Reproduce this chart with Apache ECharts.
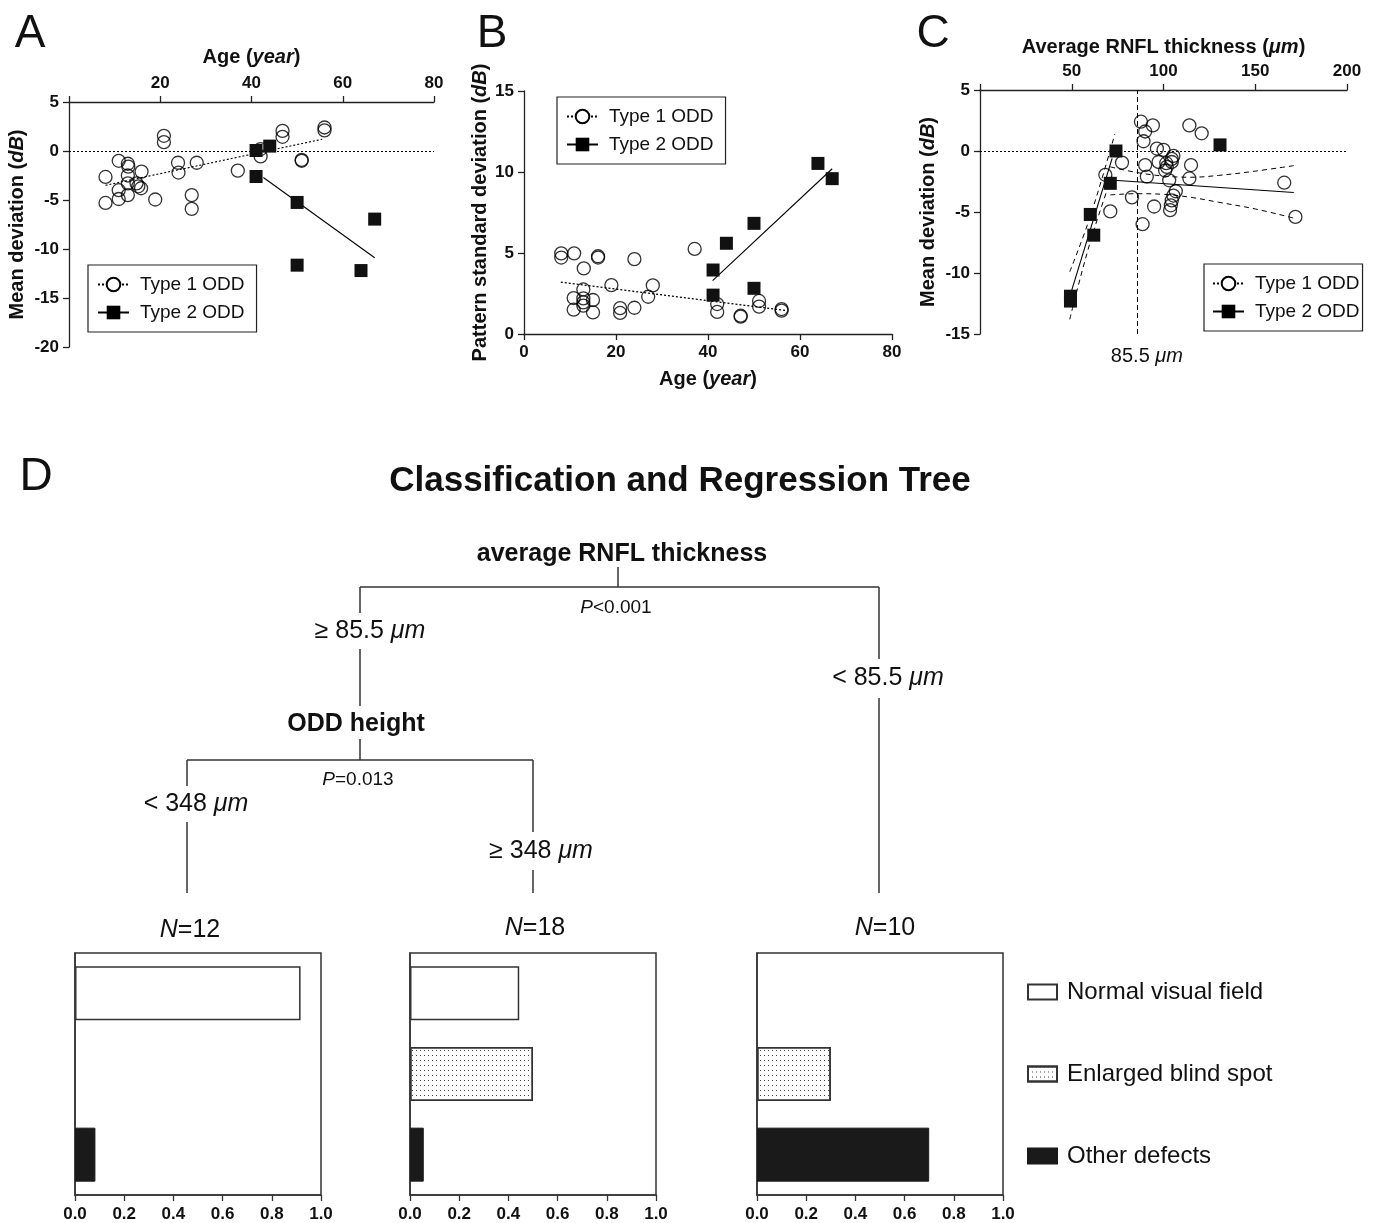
<!DOCTYPE html>
<html><head><meta charset="utf-8">
<script src="https://cdn.jsdelivr.net/npm/echarts@6/dist/echarts.min.js"></script>
<style>html,body{margin:0;padding:0;background:#fff}#c{width:1387px;height:1223px}</style>
</head><body><div id="c"></div>
<script>
const FONT = '"Liberation Sans", Arial, sans-serif';

// ---------- Panel A : Age vs Mean deviation ----------
const aType1 = [[8,-2.65],[8,-5.3],[10.9,-1.0],[10.9,-4.0],[10.9,-4.9],[12.9,-1.3],[13,-1.6],[12.9,-2.5],[12.9,-3.3],[12.9,-4.5],[14.8,-3.3],[15.2,-3.6],[15.8,-3.8],[15.9,-2.1],[18.9,-4.95],[20.8,1.55],[20.8,0.9],[23.9,-1.2],[24,-2.2],[26.9,-4.5],[26.9,-5.9],[28,-1.2],[37,-2.0],[42,-0.55],[42,0.2],[46.8,2.05],[46.8,1.45],[51,-0.9],[51,-1.0],[56,2.4],[56,2.1]];
const aType2 = [[41,-2.6],[41,0.05],[44,0.5],[50,-5.25],[50,-11.65],[64,-12.2],[67,-6.95]];
const aFit1 = [[8,-3.5],[55.5,1.2]];
const aFit2 = [[42.6,-2.7],[67,-10.9]];

// ---------- Panel B : Age vs Pattern standard deviation ----------
const bType1 = [[8.1,4.98],[8.1,4.72],[10.9,4.98],[13,4.05],[10.8,2.22],[10.8,1.5],[12.9,2.75],[12.9,2.2],[12.9,1.95],[12.9,1.75],[15,2.1],[15,1.33],[16.1,4.8],[16.1,4.72],[19,3.02],[20.9,1.6],[20.9,1.3],[24,4.62],[24,1.62],[27,2.3],[28,3.0],[37.1,5.25],[42,1.85],[42,1.36],[47.1,1.13],[47.1,1.07],[51.1,2.04],[51.1,1.69],[56,1.54],[56,1.44]];
const bType2 = [[41.1,3.95],[41.1,2.4],[44,5.6],[50,6.83],[50,2.82],[63.9,10.53],[67,9.59]];
const bFit1 = [[8,3.2],[57,1.45]];
const bFit2 = [[41,3.3],[67,10.2]];

// ---------- Panel C : RNFL thickness vs Mean deviation ----------
const cType1 = [[87.7,2.4],[90,1.6],[89.1,0.8],[94.2,2.1],[96.4,0.2],[100,0.1],[105.4,-0.4],[104.5,-0.9],[97.3,-0.9],[101.8,-1.3],[100.9,-1.6],[90,-1.15],[90.9,-2.1],[103.1,-2.4],[115,-1.15],[114.1,-2.25],[114.1,2.1],[120.8,1.45],[77.4,-0.95],[68.3,-1.95],[71,-4.95],[82.8,-3.8],[88.6,-6.0],[94.9,-4.55],[106.7,-3.3],[105.4,-3.65],[104.5,-4.05],[104,-4.45],[103.6,-4.85],[165.8,-2.6],[171.9,-5.4],[104.5,-0.65],[101.5,-1.0]];
const cType2 = [[49.3,-11.9],[49.3,-12.3],[60.1,-5.2],[62,-6.9],[71,-2.65],[74.1,0.0],[130.8,0.5]];
const cFit1 = [[71,-2.38],[171,-3.4]];
const cBand1Upper = [[71,-1.3],[85,-1.75],[100,-2.05],[115,-2.15],[130,-2.0],[150,-1.65],[171,-1.2]];
const cBand1Lower = [[71,-3.6],[85,-3.5],[100,-3.55],[115,-3.8],[130,-4.2],[150,-4.75],[171,-5.5]];
const cFit2 = [[49.8,-11.5],[72,-0.6]];
const cBand2Upper = [[48.9,-9.9],[60,-5.4],[73.5,1.4]];
const cBand2Lower = [[48.9,-13.8],[60,-7.5],[72.5,-1.8]];
const cCutoff = 85.5;

// ---------- Panel D : classification tree ----------
const barCats = ['Normal visual field','Enlarged blind spot','Other defects'];
const nodeValues = [[0.917,0,0.083],[0.444,0.5,0.056],[0,0.3,0.7]];
const nodeN = [12,18,10];
const treeTexts = {root:'average RNFL thickness', split2:'ODD height', p1:'<0.001', p2:'=0.013',
  ge855:'≥ 85.5 ', lt855:'< 85.5 ', lt348:'< 348 ', ge348:'≥ 348 '};

const AX = '#222';
function valAxis(o){
  return Object.assign({
    type:'value', splitLine:{show:false},
    axisLine:{show:true,onZero:false,lineStyle:{color:AX,width:1.3}},
    axisTick:{show:true,inside:false,length:6,lineStyle:{color:AX,width:1.3}},
    axisLabel:{fontWeight:'bold',fontSize:17,color:'#111',fontFamily:FONT,margin:10},
    nameLocation:'middle',
    nameTextStyle:{color:'#111',rich:{b:{fontSize:20,fontWeight:'bold',fontFamily:FONT,color:'#111'},
      i:{fontSize:20,fontWeight:'bold',fontStyle:'italic',fontFamily:FONT,color:'#111'}}}
  },o);
}
const hide0 = v => v===0 ? '' : String(v);
const baseLabel = valAxis({}).axisLabel;

function fitSeries(name,xi,data,lineType){
  return {type:'line',name,xAxisIndex:xi,yAxisIndex:xi,data,showSymbol:false,
    symbol: name==='Type 1 ODD' ? 'emptyCircle' : 'rect',
    itemStyle:{color:'#000'},lineStyle:{color:'#000',width:1.1,type:lineType},silent:true,z:3,animation:false};
}
function t1(xi,data,extra){
  return Object.assign({type:'scatter',name:'Type 1 ODD',xAxisIndex:xi,yAxisIndex:xi,data,symbol:'circle',symbolSize:13,
    itemStyle:{color:'rgba(0,0,0,0)',borderColor:'#000',borderWidth:1.3},silent:true,z:4},extra||{});
}
function t2(xi,data){
  return {type:'scatter',name:'Type 2 ODD',xAxisIndex:xi,yAxisIndex:xi,data,symbol:'rect',symbolSize:13,
    itemStyle:{color:'#111',opacity:1},silent:true,z:5};
}
function band(xi,data){
  return {type:'line',name:'band',xAxisIndex:xi,yAxisIndex:xi,data,showSymbol:false,smooth:0.4,
    lineStyle:{color:'#000',width:1,type:[5,4]},silent:true,z:3};
}
const zeroLine = {silent:true,symbol:'none',label:{show:false},animation:false,
  lineStyle:{color:'#000',width:1,type:[2,2]},data:[{yAxis:0}]};

const series = [
  fitSeries('Type 1 ODD',0,aFit1,[2,2]),
  fitSeries('Type 2 ODD',0,aFit2,'solid'),
  t1(0,aType1,{markLine:zeroLine}), t2(0,aType2),
  fitSeries('fitB1',1,bFit1,[2,2]),
  fitSeries('fitB2',1,bFit2,'solid'),
  t1(1,bType1), t2(1,bType2),
  fitSeries('fitC1',2,cFit1,'solid'),
  fitSeries('fitC2',2,cFit2,'solid'),
  band(2,cBand1Upper), band(2,cBand1Lower), band(2,cBand2Upper), band(2,cBand2Lower),
  t1(2,cType1,{markLine:{silent:true,symbol:'none',animation:false,
    data:[{yAxis:0,lineStyle:{color:'#000',width:1,type:[2,2]},label:{show:false}},
          {xAxis:cCutoff,lineStyle:{color:'#000',width:1,type:[5,3]},
           label:{show:true,position:'start',distance:12,offset:[10,0],formatter:'{n|'+cCutoff+' }{i|μm}',
             rich:{n:{fontSize:20,fontFamily:FONT,color:'#111'},i:{fontSize:20,fontStyle:'italic',fontFamily:FONT,color:'#111'}}}}]}}),
  t2(2,cType2)
];

const barStyles = [
  {color:'#fff',borderColor:'#333',borderWidth:1.5},
  {color:'#fff',borderColor:'#333',borderWidth:1.5,decal:{symbol:'rect',symbolSize:1,dashArrayX:[1,3],dashArrayY:[1,4],color:'#444',rotation:0}},
  {color:'#1a1a1a',borderColor:'#1a1a1a',borderWidth:1}
];
nodeValues.forEach((vals,g)=>{
  barCats.forEach((cat,k)=>{
    series.push({type:'bar',name:cat,xAxisIndex:3+g,yAxisIndex:3+g,stack:'n'+g,barWidth:54,silent:true,
      itemStyle:barStyles[k],
      data:barCats.map((c,j)=> (j===k && vals[j]>0) ? vals[j] : '-')});
  });
});

const grids = [
  {left:69,top:102,width:365,height:245},
  {left:524,top:91,width:368,height:243},
  {left:980,top:90,width:367,height:244},
  {left:75,top:953,width:246,height:242,show:true,borderColor:'#333',borderWidth:1.5},
  {left:410,top:953,width:246,height:242,show:true,borderColor:'#333',borderWidth:1.5},
  {left:757,top:953,width:246,height:242,show:true,borderColor:'#333',borderWidth:1.5}
];

const xAxes = [
  valAxis({gridIndex:0,position:'top',min:0,max:80,interval:20,axisLabel:Object.assign({},baseLabel,{formatter:hide0}),
    name:'{b|Age (}{i|year}{b|)}',nameGap:35}),
  valAxis({gridIndex:1,position:'bottom',min:0,max:80,interval:20,name:'{b|Age (}{i|year}{b|)}',nameGap:35}),
  valAxis({gridIndex:2,position:'top',min:0,max:200,interval:50,axisLabel:Object.assign({},baseLabel,{formatter:hide0}),
    name:'{b|Average RNFL thickness (}{i|μm}{b|)}',nameGap:33})
];
const yAxes = [
  valAxis({gridIndex:0,min:-20,max:5,interval:5,name:'{b|Mean deviation (}{i|dB}{b|)}',nameGap:42}),
  valAxis({gridIndex:1,min:0,max:15,interval:5,name:'{b|Pattern standard deviation (}{i|dB}{b|)}',nameGap:34}),
  valAxis({gridIndex:2,min:-15,max:5,interval:5,name:'{b|Mean deviation (}{i|dB}{b|)}',nameGap:42})
];
for(let g=0;g<3;g++){
  xAxes.push({type:'value',gridIndex:3+g,min:0,max:1,interval:0.2,splitLine:{show:false},
    axisLine:{show:true,lineStyle:{color:'#333',width:1.5}},
    axisTick:{show:true,length:6,lineStyle:{color:'#333',width:1.3}},
    axisLabel:{fontWeight:'bold',fontSize:17,color:'#111',fontFamily:FONT,margin:11,formatter:v=>v.toFixed(1)}});
  yAxes.push({type:'category',gridIndex:3+g,data:barCats,inverse:true,
    axisLine:{show:true,lineStyle:{color:'#333',width:1.5}},axisTick:{show:false},axisLabel:{show:false}});
}

function scatterLegend(left,top,padding){
  return {data:['Type 1 ODD','Type 2 ODD'],orient:'vertical',left,top,padding,
    borderColor:'#222',borderWidth:1.2,itemWidth:31,itemHeight:17,itemGap:9,selectedMode:false,
    textStyle:{fontSize:19,fontFamily:FONT,color:'#111',padding:[0,0,0,6]}};
}

const rich = {
  b:{fontSize:25,fontWeight:'bold',fontFamily:FONT,fill:'#111'},
  n:{fontSize:25,fontFamily:FONT,fill:'#111'},
  i:{fontSize:25,fontStyle:'italic',fontFamily:FONT,fill:'#111'},
  sn:{fontSize:19,fontFamily:FONT,fill:'#111'},
  si:{fontSize:19,fontStyle:'italic',fontFamily:FONT,fill:'#111'}
};
function txt(x,y,text,size,weight){
  return {type:'text',x,y,silent:true,style:{text,fontSize:size,fontWeight:weight||'normal',fontFamily:FONT,fill:'#111',
    align:'center',verticalAlign:'middle',rich}};
}
function ln(x1,y1,x2,y2){
  return {type:'line',silent:true,shape:{x1,y1,x2,y2},style:{stroke:'#333',lineWidth:1.5}};
}

const graphics = [
  txt(30,34,'A',46), txt(492,34,'B',46), txt(933,34,'C',46), txt(36,477,'D',46),
  txt(680,481,'Classification and Regression Tree',35,'bold'),
  txt(622,554,'{b|'+treeTexts.root+'}',25,'bold'),
  ln(618,567,618,587), ln(360,587,879,587),
  txt(616,608,'{si|P}{sn|'+treeTexts.p1+'}',19),
  ln(360,587,360,613), txt(370,631,'{n|'+treeTexts.ge855+'}{i|μm}',25), ln(360,649,360,706),
  ln(879,587,879,659), txt(888,678,'{n|'+treeTexts.lt855+'}{i|μm}',25), ln(879,698,879,893),
  txt(356,724,'{b|'+treeTexts.split2+'}',25,'bold'),
  ln(360,739,360,760), ln(187,760,533,760),
  txt(358,780,'{si|P}{sn|'+treeTexts.p2+'}',19),
  ln(187,760,187,786), txt(196,804,'{n|'+treeTexts.lt348+'}{i|μm}',25), ln(187,822,187,893),
  ln(533,760,533,832), txt(541,851,'{n|'+treeTexts.ge348+'}{i|μm}',25), ln(533,870,533,893),
  txt(190,930,'{i|N}{n|='+nodeN[0]+'}',25),
  txt(535,928,'{i|N}{n|='+nodeN[1]+'}',25),
  txt(885,928,'{i|N}{n|='+nodeN[2]+'}',25)
];

const option = {
  animation:false,
  backgroundColor:'#fff',
  textStyle:{fontFamily:FONT},
  grid:grids, xAxis:xAxes, yAxis:yAxes, series,
  legend:[
    scatterLegend(88,265,[10,12,10,9]),
    scatterLegend(557,97,[10,12,10,9]),
    scatterLegend(1204,264,[10,3,10,8]),
    {data:barCats,orient:'vertical',left:1022,top:975,itemWidth:29,itemHeight:15,itemGap:58,icon:'rect',selectedMode:false,
     textStyle:{fontSize:24,fontFamily:FONT,color:'#111',padding:[0,0,0,5]}}
  ],
  graphic:graphics
};
const chart = echarts.init(document.getElementById('c'),null,{renderer:'canvas'});
chart.setOption(option);
</script></body></html>
